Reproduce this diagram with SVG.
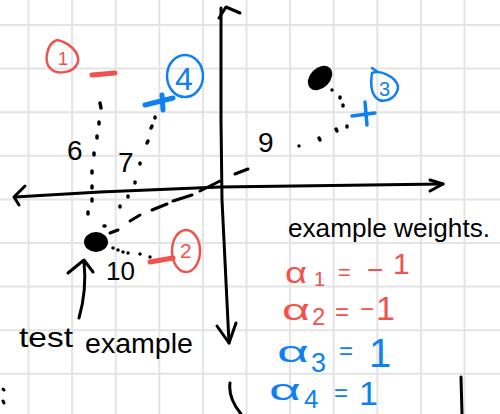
<svg xmlns="http://www.w3.org/2000/svg" width="500" height="414" viewBox="0 0 500 414">
<style>
.grid{stroke:#e4e4e4;stroke-width:2;fill:none}
.ink{stroke:#000;stroke-width:3;fill:none;stroke-linecap:round;stroke-linejoin:round}
.dot{stroke:#000;stroke-width:3.5;fill:none;stroke-linecap:round}
.red{stroke:#f0524d;fill:none;stroke-linecap:round;stroke-linejoin:round}
.blue{stroke:#0d80f2;fill:none;stroke-linecap:round;stroke-linejoin:round}
.t{font-family:"Liberation Sans",Arial,sans-serif}
.tr{fill:#f0524d}
.tb{fill:#0d80f2}
.tk{fill:#000}
</style>
<rect width="500" height="414" fill="#fff"/>
<g id="grid" class="grid">
<path d="M28.5,0V414M72.1,0V414M115.7,0V414M159.3,0V414M202.9,0V414M246.5,0V414M290.1,0V414M333.7,0V414M377.3,0V414M420.9,0V414M464.5,0V414"/>
<path d="M0,25H500M0,68.6H500M0,112.2H500M0,155.8H500M0,199.4H500M0,243H500M0,286.6H500M0,330.2H500M0,373.8H500"/>
</g>
<g id="axes" class="ink">
<path d="M221,8 L221,120 L222,200 L229,343"/>
<path d="M219,18 L226,7 L240,13"/>
<path d="M217,326 L229,343 L236,323"/>
<path d="M15,197 L100,192 L220,187 L443,184"/>
<path d="M25,186 L14,197 L19,205"/>
<path d="M430,180 L443,184 L430,191"/>
</g>
<g id="connectors">
<path class="dot" d="M100,103 l1,5 M99,122 l0,2 M97,136 l0,2 M94,153 l0,2 M92,171 l0,2 M92,186 l0,2 M92,199 l0,2 M88,212 l0,2"/>
<path class="dot" d="M155,117 l0,1 M152,126 l-1,2 M148,141 l-1,2 M140,163 l0,1 M135,182 l0,1 M128,196 l0,1 M120,206 l0,1 M104,226 l1,0"/>
<path class="dot" d="M113,248 l0,0 M118,250 l0,0 M123,252 l0,0 M128,253 l0,0 M140,254 l0,0 M150,257 l0,0"/>
<path class="ink" d="M110,233 L118,230 M130,221 L140,215 M152,210 L167,204 M173,201 L192,195 M200,191 L220,181 M235,174 L248,169"/>
<path class="dot" d="M299,146 l0,0 M319,138 l1,2 M336,129 l1,2 M347,126 l0,1"/>
<path class="dot" d="M332,90 l0,0 M340,97 l0,1 M343,105 l0,1"/>
</g>
<g id="node1">
<path class="red" stroke-width="2.5" d="M57,40 C46,44 44,62 50,68 C56,75 74,74 78,62 C80,52 68,42 57,40 Z"/>
<text class="t tr" x="58" y="65" font-size="18">1</text>
<path class="red" stroke-width="5" d="M92,75 L115,73"/>
</g>
<g id="node4">
<ellipse class="blue" stroke-width="2.5" cx="185" cy="76" rx="18" ry="21"/>
<text class="t tb" x="175" y="90" font-size="32">4</text>
<path class="blue" stroke-width="5" d="M145,105 L173,98 M162,95 L163,110"/>
</g>
<g id="node3">
<path class="blue" stroke-width="2.5" d="M372,68 L378,72 M372,73 C380,70 395,76 398,86 C398,96 388,103 379,100 C372,96 370,86 372,73 Z"/>
<text class="t tb" x="379" y="96" font-size="20">3</text>
<path class="blue" stroke-width="3.5" d="M352,116 L375,113 M365,102 L367,125"/>
</g>
<g id="node2">
<ellipse class="red" stroke-width="2.5" cx="186" cy="251" rx="14" ry="21"/>
<text class="t tr" x="180" y="258" font-size="21">2</text>
<path class="red" stroke-width="5" d="M150,262 L173,258"/>
</g>
<g id="test-point">
<ellipse cx="96" cy="242" rx="12" ry="10" fill="#000"/>
<path class="ink" d="M79,318 Q87,290 84,262 M68,273 L84,260 L93,272"/>
<text class="t tk" x="19" y="347" font-size="28" textLength="54" lengthAdjust="spacingAndGlyphs">test</text>
<text class="t tk" x="85" y="353" font-size="28" textLength="108" lengthAdjust="spacingAndGlyphs">example</text>
</g>
<g id="other-point">
<ellipse cx="320" cy="78" rx="14" ry="10" transform="rotate(-45 320 78)" fill="#000"/>
</g>
<g id="distance-labels" class="t tk">
<text x="67" y="160" font-size="28">6</text>
<text x="118" y="172" font-size="28">7</text>
<text x="106" y="280" font-size="26">10</text>
<text x="258" y="152" font-size="28">9</text>
</g>
<g id="weights" class="t">
<text class="tk" x="288" y="237" font-size="26" textLength="202" lengthAdjust="spacingAndGlyphs">example weights.</text>
<text class="tr" x="285" y="283" font-size="30" textLength="22" lengthAdjust="spacingAndGlyphs">α</text>
<text class="tr" x="314" y="286" font-size="20">1</text>
<text class="tr" x="338" y="280" font-size="22">=</text>
<text class="tr" x="367" y="279" font-size="28">−</text>
<text class="tr" x="393" y="274" font-size="30">1</text>
<text class="tr" x="282" y="320" font-size="30" textLength="28" lengthAdjust="spacingAndGlyphs">α</text>
<text class="tr" x="312" y="325" font-size="24">2</text>
<text class="tr" x="335" y="320" font-size="24">=</text>
<text class="tr" x="360" y="317" font-size="24">−</text>
<text class="tr" x="376" y="320" font-size="34">1</text>
<text class="tb" x="277" y="362" font-size="30" textLength="32" lengthAdjust="spacingAndGlyphs">α</text>
<text class="tb" x="311" y="372" font-size="27">3</text>
<text class="tb" x="339" y="359" font-size="24">=</text>
<text class="tb" x="369" y="367" font-size="40">1</text>
<text class="tb" x="269" y="400" font-size="30" textLength="32" lengthAdjust="spacingAndGlyphs">α</text>
<text class="tb" x="304" y="408" font-size="26">4</text>
<text class="tb" x="334" y="401" font-size="24">=</text>
<text class="tb" x="359" y="405" font-size="34">1</text>
</g>
<g id="edge-marks" class="ink">
<path d="M3,389 l1,1 M3,401 l1,2"/>
<path d="M230,383 Q228,398 241,414"/>
<path d="M461,377 L462,414"/>
</g>
</svg>
